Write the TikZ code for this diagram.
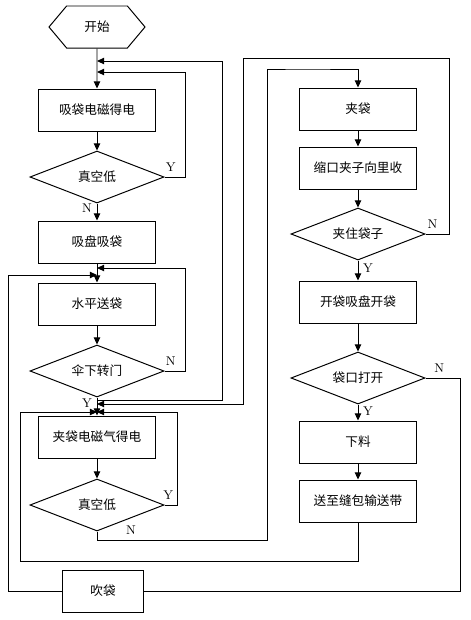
\documentclass[tikz,border=0pt]{standalone}
\usepackage{fontspec}
\newfontfamily\cjk{Noto Sans CJK SC}
\usetikzlibrary{arrows.meta, shapes.geometric, shapes.symbols}

\begin{document}
\begin{tikzpicture}[
        x=0.025cm, y=-0.025cm,
        line width=0.7pt,
        font=\cjk\fontsize{9}{11}\selectfont,
        box/.style={draw, minimum width=2.9cm, minimum height=1.05cm, align=center},
        dec/.style={draw, diamond, aspect=2.5, minimum width=3.35cm, minimum height=1.3cm, inner sep=0pt},
        hexa/.style={draw, signal, signal to=west and east, signal pointer angle=100, minimum width=2.4cm, minimum height=1.05cm},
        yn/.style={font=\rmfamily\small},
        >={Triangle[length=5pt, width=4.5pt]}
      ]
        \useasboundingbox (0,0) rectangle (471,620);

        % left column
        \node[hexa] (start) at (97,27) {开始};
        \node[box] (suck) at (97,110) {吸袋电磁得电};
        \node[dec] (vac1) at (97,177) {真空低};
        \node[box] (cup) at (97,242) {吸盘吸袋};
        \node[box] (push) at (97,304) {水平送袋};
        \node[dec] (door) at (97,371) {伞下转门};
        \node[box] (grip) at (97,437) {夹袋电磁气得电};
        \node[dec] (vac2) at (97,505) {真空低};
        \node[box, minimum width=2cm] (blow) at (103,591) {吹袋};

        % right column
        \node[box] (clamp) at (358,109) {夹袋};
        \node[box] (shrink) at (358,168) {缩口夹子向里收};
        \node[dec] (held) at (358,234) {夹住袋子};
        \node[box] (open) at (358,302) {开袋吸盘开袋};
        \node[dec] (mouth) at (358,378) {袋口打开};
        \node[box] (feed) at (358,442) {下料};
        \node[box] (belt) at (358,501) {送至缝包输送带};

        % entry points on the left trunk
        \coordinate (in1) at (97,61);
        \coordinate (in2) at (97,72);
        \coordinate (in3) at (97,268);
        \coordinate (in4) at (97,275);
        \coordinate (in5) at (97,400);
        \coordinate (in6) at (97,404);
        \coordinate (in7) at (97,412);

        \draw[->] (start) -- (suck);
        \draw[->] (suck) -- (vac1);
        \draw[->] (vac1.east) -- node[yn, above, pos=0.3]{Y} (185,177) |- (in2);
        \draw[->] (vac1) -- node[yn, left, pos=0.3]{N} (cup);
        \draw[->] (cup) -- (push);
        \draw[->] (push) -- (door);
        \draw[->] (door.east) -- node[yn, above, pos=0.3]{N} (185,371) |- (in3);
        \draw[->] (door) -- node[yn, left, pos=0.3]{Y} (grip);
        \draw[->] (in5) -- (222,400) -- (222,61) -- (in1);
        \draw[->] (grip) -- (vac2);
        \draw[->] (vac2.east) -- node[yn, above, pos=0.3]{Y} (177,505) |- (in7);
        \draw[->] (vac2.south) |- node[yn, above, pos=0.6]{N} (267,540) |- (303,69) -| (clamp.north);

        \draw[->] (clamp) -- (shrink);
        \draw[->] (shrink) -- (held);
        \draw[->] (held) -- node[yn, right, pos=0.4]{Y} (open);
        \draw[->] (held.east) -- node[yn, above, pos=0.3]{N} (449,234) |- (243,58) |- (in6);
        \draw[->] (open) -- (mouth);
        \draw[->] (mouth) -- node[yn, right, pos=0.4]{Y} (feed);
        \draw[->] (feed) -- (belt);
        \draw[->] (belt.south) |- (20,561) |- (in7);
        \draw (mouth.east) -- node[yn, above, pos=0.4]{N} (460,378) |- (blow.east);
        \draw[->] (blow.west) -| (8,275) -- (in4);
    \end{tikzpicture}
\end{document}
